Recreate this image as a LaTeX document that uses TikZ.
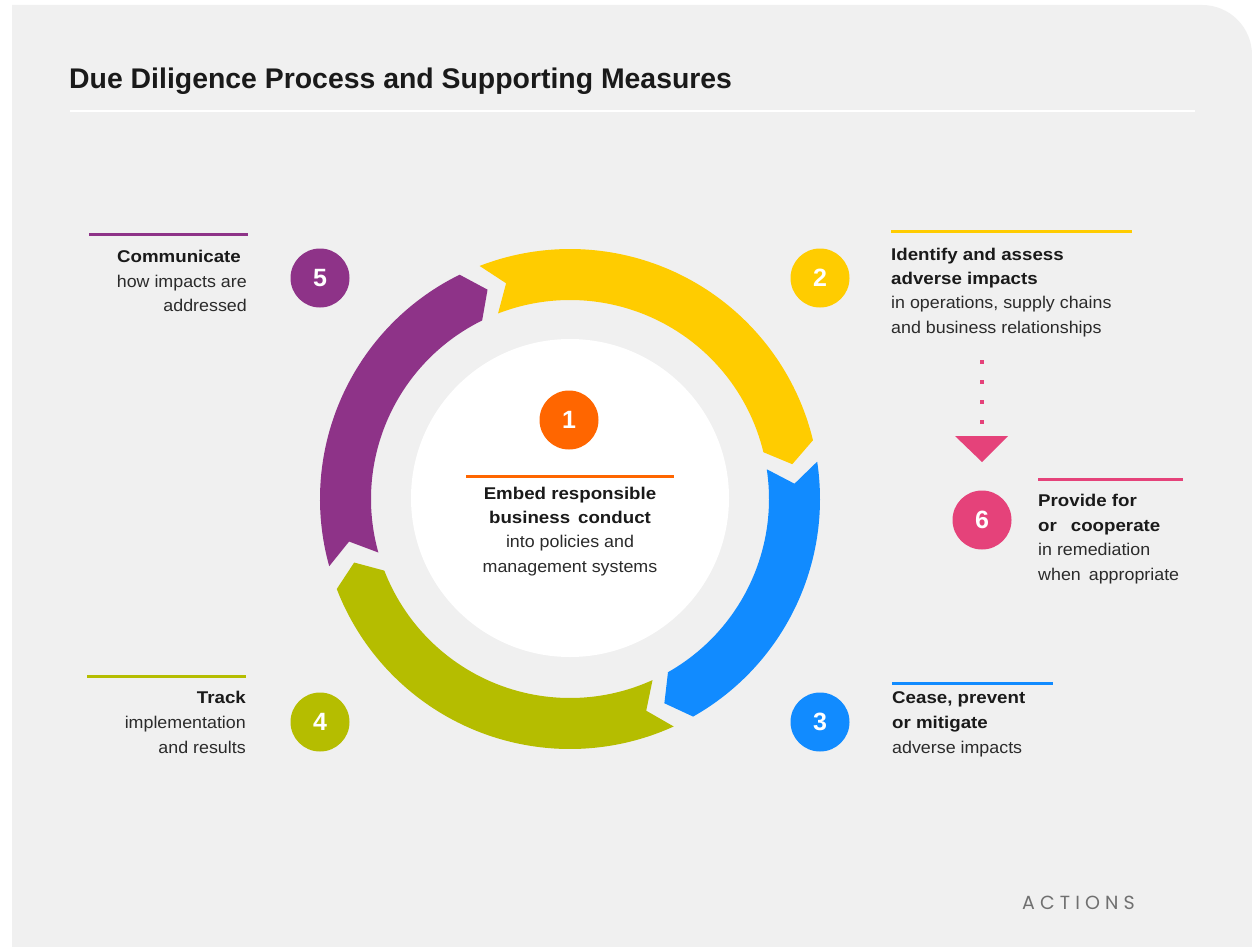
\documentclass[tikz,border=0pt]{standalone}
\usepackage{fontspec}
\setmainfont{Liberation Sans}
\newfontfamily\regf{Liberation Sans}[FakeStretch=1.05]
\newfontfamily\boldf{Liberation Sans}[FakeStretch=1.10]
\newfontfamily\actf{Poppins}[LetterSpace=27]
\definecolor{bg}{HTML}{F0F0F0}
\definecolor{cyel}{HTML}{FFCC00}
\definecolor{cblue}{HTML}{118BFF}
\definecolor{cgreen}{HTML}{B5BD00}
\definecolor{cpurple}{HTML}{8E3388}
\definecolor{corange}{HTML}{FF6600}
\definecolor{cpink}{HTML}{E5427A}
\definecolor{txtb}{HTML}{1A1A1A}
\definecolor{txtr}{HTML}{2B2B2B}
\definecolor{actgray}{HTML}{707070}
\tikzset{
  bt/.style={font=\boldf\bfseries\fontsize{17}{20}\selectfont, text=txtb, inner sep=0pt},
  rt/.style={font=\regf\fontsize{17}{20}\selectfont, text=txtr, inner sep=0pt},
  numc/.style={circle, minimum size=59pt, inner sep=0pt, text=white,
    font=\bfseries\fontsize{25}{25}\selectfont},
  rulel/.style={line width=3pt},
}
\newcommand{\ringseg}[3]{%
  \fill[#1] (#2:250) -- ({#2+4.7}:225) -- (#2:199)
    arc[start angle=#2, end angle=#3, radius=199]
    -- ({#3+4.7}:225) -- (#3:250)
    arc[start angle=#3, end angle=#2, radius=250] -- cycle;}
\begin{document}
\begin{tikzpicture}[x=1pt,y=-1pt]
\useasboundingbox (0,0) rectangle (1252,947);
\fill[white] (0,0) rectangle (1252,947);
\fill[bg] (12,947) -- (12,5) -- (1202,5) arc[start angle=-90, end angle=0, radius=50] -- (1252,947) -- cycle;

% title
\node[anchor=base west, inner sep=0pt, text=txtb, font=\bfseries\fontsize{28.4}{30}\selectfont] (title) at (69,89) {Due Diligence Process and Supporting Measures};
\draw[white, line width=2pt] (70,111) -- (1195,111);

% ring
\begin{scope}[shift={(570,499)}]
  \ringseg{cyel}{-111.2}{-13.6}
  \ringseg{cblue}{-8.6}{60.5}
  \ringseg{cgreen}{65.5}{158.9}
  \ringseg{cpurple}{164.4}{243.8}
\end{scope}
\fill[white] (570,498) circle[radius=159];

% center block
\node[numc, fill=corange] (n1) at (569,420) {1};
\draw[corange, rulel] (466,476) -- (674,476);
\node[bt, anchor=base] (t1a) at (570,499) {Embed responsible};
\node[bt, anchor=base] (t1b) at (570,523) {business\hspace{8pt}conduct};
\node[rt, anchor=base] (t1c) at (570,547) {into policies and};
\node[rt, anchor=base] (t1d) at (570,572) {management systems};

% block 5
\node[numc, fill=cpurple] (n5) at (320,278) {5};
\draw[cpurple, rulel] (89,234) -- (248,234);
\node[bt, anchor=base east] (t5a) at (241,262) {Communicate};
\node[rt, anchor=base east] (t5b) at (247,287) {how impacts are};
\node[rt, anchor=base east] (t5c) at (247,311) {addressed};

% block 2
\node[numc, fill=cyel] (n2) at (820,278) {2};
\draw[cyel, rulel] (891,231) -- (1132,231);
\node[bt, anchor=base west] (t2a) at (891,260) {Identify and assess};
\node[bt, anchor=base west] (t2b) at (891,284) {adverse impacts};
\node[rt, anchor=base west] (t2c) at (891,308) {in operations, supply chains};
\node[rt, anchor=base west] (t2d) at (891,333) {and business relationships};

% connector 2 -> 6
\coordinate (d1) at (982,360);
\coordinate (d2) at (982,436);
\draw[cpink, line width=4pt, dash pattern=on 4pt off 16pt] (d1) -- (d2);
\fill[cpink] (955,436) -- (1008,436) -- (982,462) -- cycle;

% block 6
\node[numc, fill=cpink] (n6) at (982,520) {6};
\draw[cpink, rulel] (1038,479) -- (1183,479);
\node[bt, anchor=base west] (t6a) at (1038,506) {Provide for};
\node[bt, anchor=base west] (t6b) at (1038,531) {or\hspace{14pt}cooperate};
\node[rt, anchor=base west] (t6c) at (1038,555) {in remediation};
\node[rt, anchor=base west] (t6d) at (1038,580) {when\hspace{8pt}appropriate};

% block 3
\node[numc, fill=cblue] (n3) at (820,722) {3};
\draw[cblue, rulel] (892,683) -- (1053,683);
\node[bt, anchor=base west] (t3a) at (892,703) {Cease, prevent};
\node[bt, anchor=base west] (t3b) at (892,728) {or mitigate};
\node[rt, anchor=base west] (t3c) at (892,753) {adverse impacts};

% block 4
\node[numc, fill=cgreen] (n4) at (320,722) {4};
\draw[cgreen, rulel] (87,676) -- (246,676);
\node[bt, anchor=base east] (t4a) at (246,703) {Track};
\node[rt, anchor=base east] (t4b) at (246,728) {implementation};
\node[rt, anchor=base east] (t4c) at (246,753) {and results};

% footer
\node[anchor=base west, inner sep=0pt, text=actgray, font=\actf\fontsize{19}{20}\selectfont] (act) at (1022,909) {ACTIONS};
\end{tikzpicture}
\end{document}
